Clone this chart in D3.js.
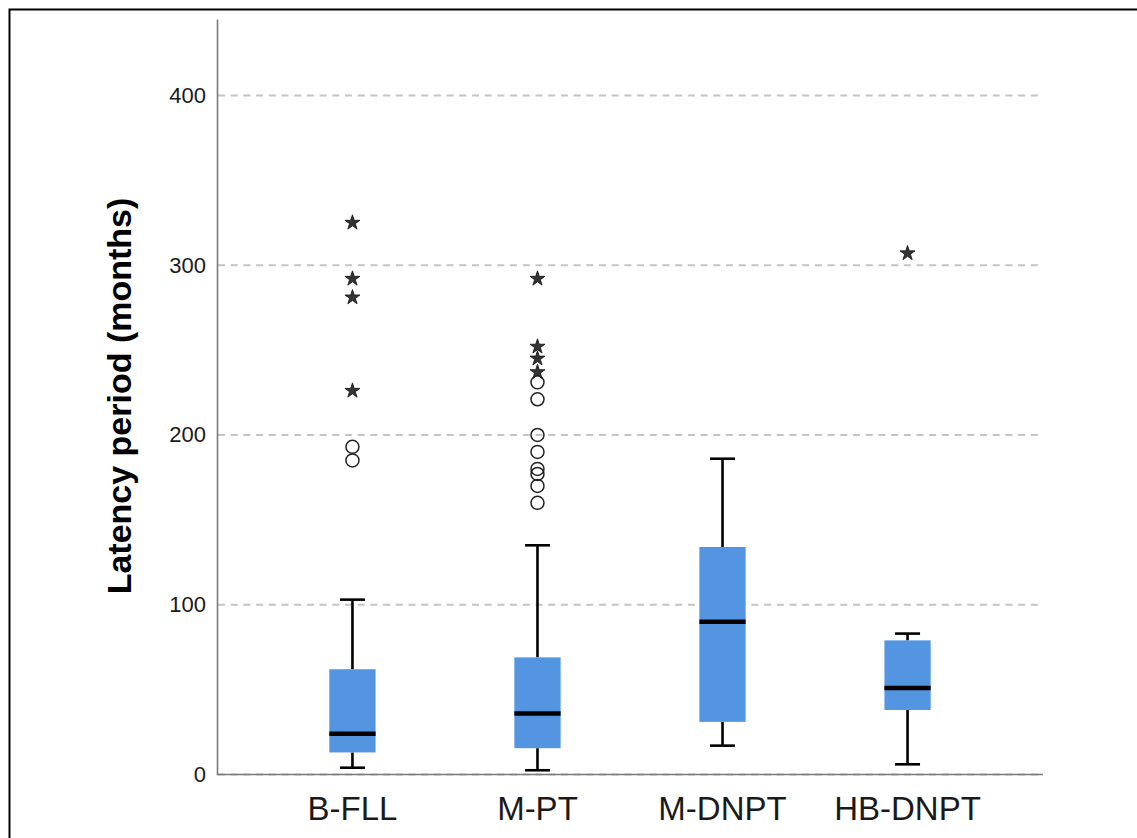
<!DOCTYPE html>
<html>
<head>
<meta charset="utf-8">
<script src="https://cdn.jsdelivr.net/npm/d3@7"></script>
<style>
body { margin: 0; background: #fff; }
svg { display: block; font-family: "Liberation Sans", Arial, sans-serif; }
</style>
</head>
<body>
<svg width="1137" height="838"></svg>
<script>
// values (months)
var categories = ["B-FLL", "M-PT", "M-DNPT", "HB-DNPT"];
var whiskerLow = [4, 2.5, 17, 6];
var q1 = [13, 15.5, 31, 38];
var median = [24, 36, 90, 51];
var q3 = [62, 69, 134, 79];
var whiskerHigh = [103, 135, 186, 83];
var circleOutliers = [
    [193, 185],
    [231, 221, 200, 190, 180, 177, 170, 160],
    [],
    []
];
var starOutliers = [
    [325, 292, 281, 226],
    [292, 252, 245, 237],
    [],
    [307]
];
var yTicks = [0, 100, 200, 300, 400];

function setup()
{
    var svg = d3.select("svg");

    // outer frame
    svg.append("rect")
        .attr("x", 9.5).attr("y", 9.5)
        .attr("width", 1150).attr("height", 850)
        .attr("fill", "none")
        .attr("stroke", "#000")
        .attr("stroke-width", 2);

    var x = d3.scaleBand()
        .domain(categories)
        .range([217, 1043])
        .paddingInner(0.75)
        .paddingOuter(0.607);

    var y = d3.scaleLinear()
        .domain([0, 445])
        .range([774.5, 19]);

    // grid lines
    svg.append("g").selectAll("line")
        .data(yTicks)
        .enter().append("line")
        .attr("x1", 218).attr("x2", 1043)
        .attr("y1", function(d) { return y(d); })
        .attr("y2", function(d) { return y(d); })
        .attr("stroke", "#c4c4c4")
        .attr("stroke-width", 2)
        .attr("stroke-dasharray", "7,5.7");

    // y axis
    var yAxis = svg.append("g")
        .attr("transform", "translate(217,0)")
        .call(d3.axisLeft(y).tickValues(yTicks).tickSize(0).tickPadding(11));
    yAxis.select(".domain").attr("stroke", "#7a7a7a").attr("stroke-width", 1.6);
    yAxis.selectAll("text")
        .attr("font-size", 22)
        .attr("fill", "#1a1a1a")
        .attr("font-family", "Liberation Sans, Arial, sans-serif");

    // x axis
    svg.append("line")
        .attr("x1", 217).attr("x2", 1043)
        .attr("y1", y(0)).attr("y2", y(0))
        .attr("stroke", "#7a7a7a")
        .attr("stroke-width", 1.6);

    svg.append("g").selectAll("text")
        .data(categories)
        .enter().append("text")
        .attr("x", function(d) { return x(d) + x.bandwidth() / 2; })
        .attr("y", 820)
        .attr("text-anchor", "middle")
        .attr("font-size", 33)
        .attr("fill", "#1a1a1a")
        .text(function(d) { return d; });

    // axis title
    svg.append("text")
        .attr("transform", "translate(131,396) rotate(-90)")
        .attr("text-anchor", "middle")
        .attr("font-size", 34)
        .attr("font-weight", "bold")
        .attr("fill", "#000")
        .text("Latency period (months)");

    var boxes = categories.map(function(c, i) {
        return {
            name: c,
            lo: whiskerLow[i], q1: q1[i], med: median[i], q3: q3[i], hi: whiskerHigh[i]
        };
    });

    var g = svg.append("g").selectAll("g.box")
        .data(boxes)
        .enter().append("g")
        .attr("class", "box");

    var cx = function(d) { return x(d.name) + x.bandwidth() / 2; };
    var capW = 12.5;

    // whiskers
    g.append("line")
        .attr("x1", cx).attr("x2", cx)
        .attr("y1", function(d) { return y(d.hi); })
        .attr("y2", function(d) { return y(d.q3); })
        .attr("stroke", "#000").attr("stroke-width", 2.6);
    g.append("line")
        .attr("x1", cx).attr("x2", cx)
        .attr("y1", function(d) { return y(d.q1); })
        .attr("y2", function(d) { return y(d.lo); })
        .attr("stroke", "#000").attr("stroke-width", 2.6);
    g.append("line")
        .attr("x1", function(d) { return cx(d) - capW; })
        .attr("x2", function(d) { return cx(d) + capW; })
        .attr("y1", function(d) { return y(d.hi); })
        .attr("y2", function(d) { return y(d.hi); })
        .attr("stroke", "#000").attr("stroke-width", 2.6);
    g.append("line")
        .attr("x1", function(d) { return cx(d) - capW; })
        .attr("x2", function(d) { return cx(d) + capW; })
        .attr("y1", function(d) { return y(d.lo); })
        .attr("y2", function(d) { return y(d.lo); })
        .attr("stroke", "#000").attr("stroke-width", 2.6);

    // boxes
    g.append("rect")
        .attr("x", function(d) { return x(d.name); })
        .attr("width", x.bandwidth())
        .attr("y", function(d) { return y(d.q3); })
        .attr("height", function(d) { return y(d.q1) - y(d.q3); })
        .attr("fill", "#5495e2");

    // medians
    g.append("line")
        .attr("x1", function(d) { return x(d.name); })
        .attr("x2", function(d) { return x(d.name) + x.bandwidth(); })
        .attr("y1", function(d) { return y(d.med); })
        .attr("y2", function(d) { return y(d.med); })
        .attr("stroke", "#000").attr("stroke-width", 4.5);

    // outliers
    var circ = [];
    var stars = [];
    categories.forEach(function(c, i) {
        circleOutliers[i].forEach(function(v) { circ.push({ name: c, v: v }); });
        starOutliers[i].forEach(function(v) { stars.push({ name: c, v: v }); });
    });

    svg.append("g").selectAll("circle")
        .data(circ)
        .enter().append("circle")
        .attr("cx", cx)
        .attr("cy", function(d) { return y(d.v); })
        .attr("r", 6.5)
        .attr("fill", "none")
        .attr("stroke", "#222")
        .attr("stroke-width", 1.5);

    var star = d3.symbol().type(d3.symbolStar).size(70);
    svg.append("g").selectAll("path")
        .data(stars)
        .enter().append("path")
        .attr("transform", function(d) { return "translate(" + cx(d) + "," + y(d.v) + ")"; })
        .attr("d", star)
        .attr("fill", "#333")
        .attr("stroke", "#111")
        .attr("stroke-width", 0.8);
}

setup();
</script>
</body>
</html>
